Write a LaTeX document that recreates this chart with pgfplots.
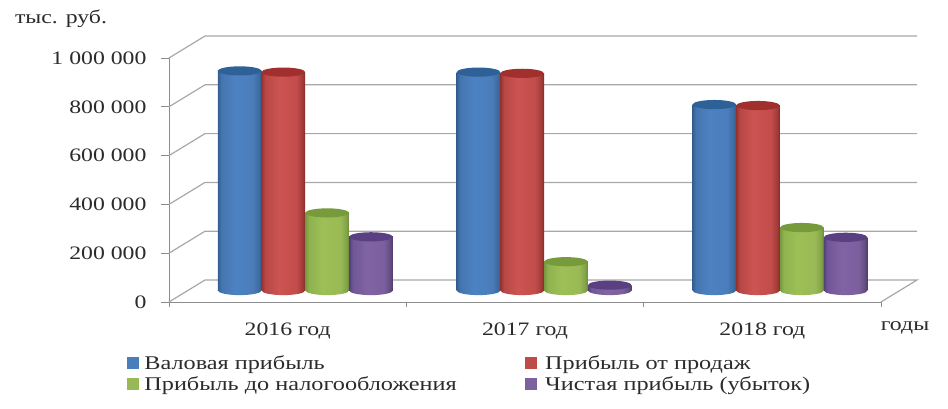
\documentclass[border=0pt]{standalone}
\usepackage{pgfplots}
\usepackage{pgfplotstable}
\usepackage{fontspec}
\setmainfont[FakeStretch=1.25]{Liberation Serif}
\pgfplotsset{compat=1.18}
\definecolor{txt}{HTML}{2B2B2B}
\definecolor{gridc}{HTML}{A8A8A8}
\definecolor{axc}{HTML}{8C8C8C}
\definecolor{cblue}{HTML}{4A7EBB}
\definecolor{cred}{HTML}{BE4B48}
\definecolor{cgreen}{HTML}{98B954}
\definecolor{cpurp}{HTML}{7D60A0}
\definecolor{tblue}{HTML}{2E6198}
\definecolor{tred}{HTML}{A12F2D}
\definecolor{tgreen}{HTML}{769A3C}
\definecolor{tpurp}{HTML}{5A3F82}
\pgfdeclarehorizontalshading{cylblue}{100bp}{rgb(0bp)=(0.20,0.37,0.57);rgb(25bp)=(0.20,0.37,0.57);rgb(29bp)=(0.27,0.46,0.69);rgb(45bp)=(0.30,0.51,0.76);rgb(65bp)=(0.29,0.49,0.73);rgb(72bp)=(0.24,0.42,0.63);rgb(75bp)=(0.20,0.36,0.53);rgb(100bp)=(0.20,0.36,0.53)}
\pgfdeclarehorizontalshading{cylred}{100bp}{rgb(0bp)=(0.58,0.20,0.19);rgb(25bp)=(0.58,0.20,0.19);rgb(29bp)=(0.72,0.28,0.27);rgb(45bp)=(0.80,0.33,0.32);rgb(65bp)=(0.76,0.30,0.29);rgb(72bp)=(0.63,0.23,0.22);rgb(75bp)=(0.50,0.17,0.16);rgb(100bp)=(0.50,0.17,0.16)}
\pgfdeclarehorizontalshading{cylgreen}{100bp}{rgb(0bp)=(0.47,0.60,0.25);rgb(25bp)=(0.47,0.60,0.25);rgb(29bp)=(0.56,0.70,0.31);rgb(45bp)=(0.62,0.75,0.34);rgb(65bp)=(0.60,0.73,0.33);rgb(72bp)=(0.51,0.64,0.28);rgb(75bp)=(0.42,0.54,0.23);rgb(100bp)=(0.42,0.54,0.23)}
\pgfdeclarehorizontalshading{cylpurp}{100bp}{rgb(0bp)=(0.33,0.25,0.47);rgb(25bp)=(0.33,0.25,0.47);rgb(29bp)=(0.44,0.34,0.59);rgb(45bp)=(0.50,0.39,0.64);rgb(65bp)=(0.48,0.37,0.62);rgb(72bp)=(0.39,0.30,0.51);rgb(75bp)=(0.30,0.22,0.42);rgb(100bp)=(0.30,0.22,0.42)}
\pgfdeclareplotmark{topblue}{\pgfpathellipse{\pgfpointorigin}{\pgfpoint{21.8pt}{0pt}}{\pgfpoint{0pt}{4.6pt}}\pgfsetfillcolor{tblue}\pgfusepathqfill}
\pgfdeclareplotmark{topred}{\pgfpathellipse{\pgfpointorigin}{\pgfpoint{21.8pt}{0pt}}{\pgfpoint{0pt}{4.6pt}}\pgfsetfillcolor{tred}\pgfusepathqfill}
\pgfdeclareplotmark{topgreen}{\pgfpathellipse{\pgfpointorigin}{\pgfpoint{21.8pt}{0pt}}{\pgfpoint{0pt}{4.6pt}}\pgfsetfillcolor{tgreen}\pgfusepathqfill}
\pgfdeclareplotmark{toppurp}{\pgfpathellipse{\pgfpointorigin}{\pgfpoint{21.8pt}{0pt}}{\pgfpoint{0pt}{4.6pt}}\pgfsetfillcolor{tpurp}\pgfusepathqfill}
\pgfdeclareplotmark{botblue}{\pgfpathellipse{\pgfpointorigin}{\pgfpoint{21.8pt}{0pt}}{\pgfpoint{0pt}{4.6pt}}\pgfshadepath{cylblue}{0}\pgfusepath{discard}}
\pgfdeclareplotmark{botred}{\pgfpathellipse{\pgfpointorigin}{\pgfpoint{21.8pt}{0pt}}{\pgfpoint{0pt}{4.6pt}}\pgfshadepath{cylred}{0}\pgfusepath{discard}}
\pgfdeclareplotmark{botgreen}{\pgfpathellipse{\pgfpointorigin}{\pgfpoint{21.8pt}{0pt}}{\pgfpoint{0pt}{4.6pt}}\pgfshadepath{cylgreen}{0}\pgfusepath{discard}}
\pgfdeclareplotmark{botpurp}{\pgfpathellipse{\pgfpointorigin}{\pgfpoint{21.8pt}{0pt}}{\pgfpoint{0pt}{4.6pt}}\pgfshadepath{cylpurp}{0}\pgfusepath{discard}}
\pgfplotstableread{
x a b c d z
0 900000 895000 318000 220000 0
1 895000 890000 118000 22000 0
2 762000 758000 258000 218000 0
}\profit
\newcommand{\onecyl}[4]{% column, name, xshift, category
  \addplot[forget plot,restrict x to domain=#4:#4,only marks,mark=bot#2,xshift=#3pt,yshift=11.5pt] table[x=x,y=z]{\profit};
  \addplot[forget plot,restrict x to domain=#4:#4,ybar,bar width=43.6pt,bar shift=0pt,draw=none,shade,shading=cyl#2,shading angle=0,xshift=#3pt,yshift=11.5pt] table[x=x,y=#1]{\profit};
  \addplot[forget plot,restrict x to domain=#4:#4,only marks,mark=top#2,xshift=#3pt,yshift=11.5pt] table[x=x,y=#1]{\profit};
}
\newcommand{\cyl}[3]{\onecyl{#1}{#2}{#3}{0}\onecyl{#1}{#2}{#3+1.5}{1}\onecyl{#1}{#2}{#3}{2}}
\begin{document}
\begin{tikzpicture}[x=1pt,y=1pt]
\path[use as bounding box] (0,0) rectangle (948,408);
\begin{axis}[
  at={(169pt,106pt)},anchor=south west,
  scale only axis,width=712pt,height=244pt,
  xmin=-0.5,xmax=2.5,ymin=0,ymax=1000000,clip=false,
  axis lines=left,axis line style={-,axc,line width=1pt},
  xtick={0,1,2},xticklabels={2016 год,2017 год,2018 год},
  minor xtick={-0.5,0.5,1.5,2.5},
  major x tick style={draw=none},
  minor tick length=5pt,
  minor x tick style={axc,line width=0.8pt},
  ytick={0,200000,400000,600000,800000,1000000},
  scaled y ticks=false,
  y tick style={axc,line width=0.8pt},
  major tick length=8pt,
  tick align=outside,
  /pgf/number format/.cd,fixed,precision=0,1000 sep={\ },assume math mode=true,
  /pgfplots/.cd,
  tick label style={font=\fontsize{19pt}{21pt}\selectfont,text=txt},
  yticklabel style={xshift=-11pt},
  xticklabel style={yshift=-9pt},
  legend cell align=left,
  legend columns=2,
  legend style={draw=none,fill=none,at={(axis description cs:-0.059,-0.21)},anchor=north west,
    font=\fontsize{19.4pt}{21pt}\selectfont,text=txt,inner sep=0pt,outer sep=0pt,
    /tikz/row sep=2pt,
    /tikz/every even column/.style={column sep=66pt}},
]
\addplot[forget plot,gridc,line width=1.2pt] coordinates {(-0.5,0)(-0.3483,90164)(2.6517,90164)(2.5,0)};
\addplot[forget plot,gridc,line width=1.2pt] coordinates {(-0.5,200000)(-0.3483,290164)(2.6517,290164)};
\addplot[forget plot,gridc,line width=1.2pt] coordinates {(-0.5,400000)(-0.3483,490164)(2.6517,490164)};
\addplot[forget plot,gridc,line width=1.2pt] coordinates {(-0.5,600000)(-0.3483,690164)(2.6517,690164)};
\addplot[forget plot,gridc,line width=1.2pt] coordinates {(-0.5,800000)(-0.3483,890164)(2.6517,890164)};
\addplot[forget plot,gridc,line width=1.2pt] coordinates {(-0.5,1000000)(-0.3483,1090164)(2.6517,1090164)};
\cyl{a}{blue}{-48}
\cyl{b}{red}{-4.3}
\cyl{c}{green}{39.5}
\cyl{d}{purp}{83.3}
\addlegendimage{legend image code/.code={\fill[cblue] (0pt,-5pt) rectangle (11pt,6pt);}}
\addlegendentry{\hspace{4pt}Валовая прибыль}
\addlegendimage{legend image code/.code={\fill[cred] (0pt,-5pt) rectangle (11pt,6pt);}}
\addlegendentry{\hspace{7pt}Прибыль от продаж}
\addlegendimage{legend image code/.code={\fill[cgreen] (0pt,-5pt) rectangle (11pt,6pt);}}
\addlegendentry{\hspace{4pt}Прибыль до налогообложения}
\addlegendimage{legend image code/.code={\fill[cpurp] (0pt,-5pt) rectangle (11pt,6pt);}}
\addlegendentry{\hspace{7pt}Чистая прибыль (убыток)}
\end{axis}
\node[text=txt,font=\fontsize{19pt}{21pt}\selectfont] at (61,389) {тыс. руб.};
\node[text=txt,font=\fontsize{19pt}{21pt}\selectfont] at (905,80) {годы};
\end{tikzpicture}
\end{document}
